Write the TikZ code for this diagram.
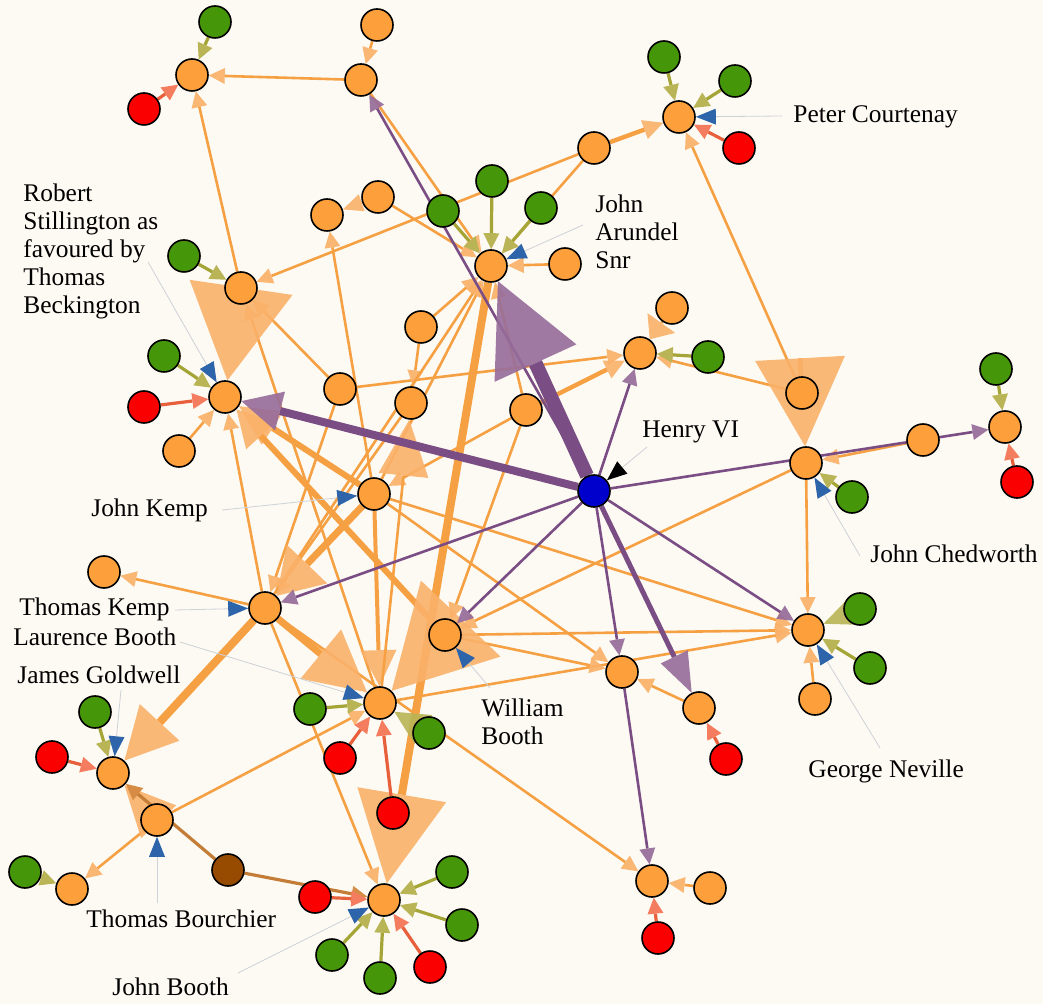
\documentclass[tikz,border=0pt]{standalone}
\usepackage{fontspec}
\setmainfont{Liberation Serif}
\usetikzlibrary{arrows.meta}
\pgfdeclarelayer{back}
\pgfdeclarelayer{edges}
\pgfsetlayers{back,edges,main}
\definecolor{bgcr}{RGB}{253,250,243}
\definecolor{ndor}{RGB}{253,160,60}
\definecolor{ndgr}{RGB}{70,150,10}
\definecolor{ndrd}{RGB}{250,0,0}
\definecolor{ndbl}{RGB}{0,0,205}
\definecolor{ndbr}{RGB}{150,75,0}
\definecolor{edgeor}{RGB}{246,160,68}
\definecolor{tipor}{RGB}{250,177,105}
\definecolor{edgepu}{RGB}{122,78,132}
\definecolor{tippu}{RGB}{150,108,155}
\definecolor{edgeol}{RGB}{165,165,55}
\definecolor{tipol}{RGB}{185,180,85}
\definecolor{edgerd}{RGB}{232,95,60}
\definecolor{tiprd}{RGB}{245,125,95}
\definecolor{edgebr}{RGB}{195,125,55}
\definecolor{tipbr}{RGB}{215,140,70}
\definecolor{labbl}{RGB}{45,100,170}
\definecolor{leadgr}{RGB}{205,210,215}
\newcommand{\lbfont}{\fontsize{12.7}{14}\selectfont}
\tikzset{
  pnode/.style={circle, draw=black, line width=0.8pt, minimum size=16pt, inner sep=0pt},
  nor/.style={pnode, fill=ndor},
  ngr/.style={pnode, fill=ndgr},
  nrd/.style={pnode, fill=ndrd},
  nbl/.style={pnode, fill=ndbl},
  nbr/.style={pnode, fill=ndbr},
  lbl/.style={font=\lbfont, inner sep=0pt, align=left},
  eor/.style={draw=edgeor, line width=1.3pt, fill opacity=.92, -{Triangle[length=8pt,width=8pt,color=tipor,line width=0pt]}},
  eorx/.style n args={3}{draw=edgeor, line width=#1, fill opacity=.9, -{Triangle[length=#2,width=#3,color=tipor,line width=0pt]}},
  epu/.style={draw=edgepu, line width=1.3pt, fill opacity=.92, -{Triangle[length=8pt,width=8pt,color=tippu,line width=0pt]}},
  epux/.style n args={3}{draw=edgepu, line width=#1, fill opacity=.9, -{Triangle[length=#2,width=#3,color=tippu,line width=0pt]}},
  eol/.style={draw=edgeol, line width=1.6pt, -{Triangle[length=8pt,width=8pt,color=tipol,line width=0pt]}},
  eolx/.style n args={2}{draw=edgeol, line width=1.6pt, fill opacity=.9, -{Triangle[length=#1,width=#2,color=tipol,line width=0pt]}},
  erd/.style={draw=edgerd, line width=1.6pt, -{Triangle[length=8pt,width=8pt,color=tiprd,line width=0pt]}},
  ebr/.style={draw=edgebr, line width=1.6pt, -{Triangle[length=8pt,width=8pt,color=tipbr,line width=0pt]}},
  lead/.style={draw=leadgr, line width=0.4pt, -{Triangle[length=10pt,width=8pt,color=labbl,line width=0pt]}},
  leadk/.style={draw=leadgr, line width=0.4pt, -{Triangle[length=10pt,width=8pt,color=black,line width=0pt]}},
}
\begin{document}
\begin{tikzpicture}[x=0.5pt,y=-0.5pt]
\begin{pgfonlayer}{back}
\fill[bgcr] (0,0) rectangle (1043,1004);
\end{pgfonlayer}
\useasboundingbox (0,0) rectangle (1043,1004);

% clergy and lords
\node[nor] (A) at (192,75) {};
\node[nor] (B) at (361,80) {};
\node[nor] (Bt) at (377,25) {};
\node[nor] (C) at (241,288) {};
\node[nor] (RS) at (225,397) {};
\node[nor] (RSo) at (179,451) {};
\node[nor] (PC) at (679,117) {};
\node[nor] (D) at (594,148) {};
\node[nor] (E) at (378,197) {};
\node[nor] (F) at (327,215) {};
\node[nor] (JA) at (491,266) {};
\node[nor] (JAo) at (565,264) {};
\node[nor] (G) at (340,389) {};
\node[nor] (H) at (411,403) {};
\node[nor] (I) at (421,327) {};
\node[nor] (K) at (526,410) {};
\node[nor] (L) at (640,353) {};
\node[nor] (Lt) at (672,308) {};
\node[nor] (T) at (802,393) {};
\node[nor] (JC) at (806,463) {};
\node[nor] (R) at (923,440) {};
\node[nor] (Q) at (1005,427) {};
\node[nor] (JK) at (374,494) {};
\node[nor] (TK) at (265,608) {};
\node[nor] (TKo) at (104,572) {};
\node[nor] (WB) at (445,635) {};
\node[nor] (LB) at (380,703) {};
\node[nor] (N) at (622,672) {};
\node[nor] (Nb) at (699,708) {};
\node[nor] (GN) at (808,630) {};
\node[nor] (GNo) at (815,699) {};
\node[nor] (Ob) at (652,881) {};
\node[nor] (Obb) at (710,888) {};
\node[nor] (JG) at (113,773) {};
\node[nor] (TB) at (157,820) {};
\node[nor] (TBo) at (72,889) {};
\node[nor] (JB) at (384,900) {};
\node[nbl] (HVI) at (594,491) {};
\node[nbr] (bTB) at (228,870) {};

% green
\node[ngr] (gA) at (215,22) {};
\node[ngr] (gC) at (184,256) {};
\node[ngr] (gRS) at (164,356) {};
\node[ngr] (gPCa) at (664,57) {};
\node[ngr] (gPCb) at (735,81) {};
\node[ngr] (gJAa) at (443,211) {};
\node[ngr] (gJAb) at (492,181) {};
\node[ngr] (gJAc) at (541,208) {};
\node[ngr] (gL) at (708,357) {};
\node[ngr] (gQ) at (996,369) {};
\node[ngr] (gJC) at (852,497) {};
\node[ngr] (gGNa) at (860,609) {};
\node[ngr] (gGNb) at (870,668) {};
\node[ngr] (gLBa) at (310,709) {};
\node[ngr] (gLBb) at (429,733) {};
\node[ngr] (gJG) at (95,712) {};
\node[ngr] (gTBo) at (25,872) {};
\node[ngr] (gJBa) at (452,872) {};
\node[ngr] (gJBb) at (462,925) {};
\node[ngr] (gJBc) at (380,978) {};
\node[ngr] (gJBd) at (332,955) {};

% red
\node[nrd] (rA) at (144,109) {};
\node[nrd] (rRS) at (144,407) {};
\node[nrd] (rPC) at (739,148) {};
\node[nrd] (rQ) at (1017,482) {};
\node[nrd] (rNb) at (726,759) {};
\node[nrd] (rOb) at (658,938) {};
\node[nrd] (rJG) at (52,757) {};
\node[nrd] (rLBa) at (340,758) {};
\node[nrd] (rLBb) at (393,813) {};
\node[nrd] (rJBa) at (315,897) {};
\node[nrd] (rJBb) at (430,967) {};

% names
\node[lbl, anchor=north west] (lRS) at (23,183) {Robert\\Stillington as\\favoured by\\Thomas\\Beckington};
\node[lbl, anchor=north west] (lJA) at (595,194) {John\\Arundel\\Snr};
\node[lbl, anchor=base west] (lPC) at (793,123) {Peter Courtenay};
\node[lbl, anchor=base west] (lHVI) at (642,438) {Henry VI};
\node[lbl, anchor=base west] (lJC) at (870,563) {John Chedworth};
\node[lbl, anchor=base west] (lGN) at (808,777) {George Neville};
\node[lbl, anchor=north west] (lWB) at (481,698) {William\\Booth};
\node[lbl, anchor=base west] (lJK) at (91,517) {John Kemp};
\node[lbl, anchor=base west] (lTK) at (19,616) {Thomas Kemp};
\node[lbl, anchor=base west] (lLB) at (13,646) {Laurence Booth};
\node[lbl, anchor=base west] (lJG) at (17,683) {James Goldwell};
\node[lbl, anchor=base west] (lTB) at (86,927) {Thomas Bourchier};
\node[lbl, anchor=base west] (lJB) at (112,995) {John Booth};

\coordinate (cRS) at (148,262);
\coordinate (cJA) at (583,225);
\coordinate (cPC) at (782,116);
\coordinate (cHVI) at (647,447);
\coordinate (cJC) at (860,556);
\coordinate (cGN) at (880,748);
\coordinate (cWB) at (490,688);
\coordinate (cJK) at (222,510);
\coordinate (cTK) at (175,610);
\coordinate (cLB) at (180,642);
\coordinate (cJG) at (121,690);
\coordinate (cTB) at (157,903);
\coordinate (cJB) at (238,973);

\begin{pgfonlayer}{edges}
% orange ties
\draw[eor] (Bt) -- (B);
\draw[eor] (B) -- (A);
\draw[eor] (C) -- (A);
\draw[eor] (D) -- (C);
\draw[eor] (D) -- (JA);
\draw[eor] (E) -- (JA);
\draw[eor] (B) -- (JA);
\draw[eor] (JAo) -- (JA);
\draw[eor] (JK) -- (F);
\draw[eor] (LB) -- (C);
\draw[eor] (G) -- (C);
\draw[eor] (G) -- (L);
\draw[eor] (G) -- (TK);
\draw[eor] (I) -- (H);
\draw[eor] (H) -- (TK);
\draw[eor] (I) -- (JA);
\draw[eor] (K) -- (JA);
\draw[eor] (K) -- (WB);
\draw[eor] (K) -- (JK);
\draw[eor] (T) -- (L);
\draw[eor] (T) -- (PC);
\draw[eor] (R) -- (JC);
\draw[eor] (JC) -- (GN);
\draw[eor] (JC) -- (WB);
\draw[eor] (GNo) -- (GN);
\draw[eor] (JK) -- (GN);
\draw[eor] (WB) -- (GN);
\draw[eor] (LB) -- (GN);
\draw[eor] (JK) -- (N);
\draw[eor] (WB) -- (N);
\draw[eor] (Nb) -- (N);
\draw[eor] (Obb) -- (Ob);
\draw[eor] (TK) -- (Ob);
\draw[eor] (TK) -- (TKo);
\draw[eor] (TB) -- (LB);
\draw[eor] (TB) -- (TBo);
\draw[eor] (RSo) -- (RS);
\draw[eor] (TK) -- (RS);
\draw[eor] (TK) -- (JA);
\draw[eor] (JK) -- (JA);
\draw[eor] (TK) -- (JB);
\draw[eorx={1.3pt}{10pt}{9pt}] (E) -- (F);
\draw[eorx={1.3pt}{10pt}{17pt}] (Lt) -- (L);
\draw[eorx={2.2pt}{10pt}{10pt}] (D) -- (PC);
\draw[eorx={2.2pt}{10pt}{10pt}] (K) -- (L);
% heavy orange ties
\draw[eorx={2pt}{47pt}{52pt}] (C) -- (RS);
\draw[eorx={2.5pt}{44pt}{45pt}] (T) -- (JC);
\draw[eorx={4pt}{45pt}{45pt}] (JA) -- (JB);
\draw[eorx={3pt}{20pt}{20pt}] (JK) -- (RS);
\draw[eorx={3pt}{18pt}{20pt}] (WB) -- (RS);
\draw[eorx={3.5pt}{22pt}{28pt}] (JK) -- (TK);
\draw[eorx={4pt}{26pt}{27pt}] (TK) -- (JG);
\draw[eorx={3.5pt}{30pt}{32pt}] (TK) -- (LB);
\draw[eorx={2pt}{18pt}{18pt}] (JK) -- (LB);
\draw[eorx={1.3pt}{50pt}{55pt}] (WB) -- (LB);
\draw[eorx={1.3pt}{28pt}{25pt}] (LB) -- (H);
\draw[eorx={1.3pt}{25pt}{24pt}] (TB) -- (JG);
% brown
\draw[ebr] (bTB) -- (JG);
\draw[ebr] (bTB) -- (JB);
% Henry VI
\draw[epu] (HVI) -- (B);
\draw[epu] (HVI) -- (L);
\draw[epu] (HVI) -- (Q);
\draw[epu] (HVI) -- (TK);
\draw[epu] (HVI) -- (WB);
\draw[epu] (HVI) -- (N);
\draw[epu] (HVI) -- (GN);
\draw[epu] (N) -- (Ob);
\draw[epux={7pt}{45pt}{45pt}] (HVI) -- (JA);
\draw[epux={4pt}{20pt}{20pt}] (HVI) -- (RS);
\draw[epux={2.5pt}{20pt}{15pt}] (HVI) -- (Nb);
% green
\draw[eol] (gA) -- (A);
\draw[eol] (gC) -- (C);
\draw[eol] (gRS) -- (RS);
\draw[eol] (gPCa) -- (PC);
\draw[eol] (gPCb) -- (PC);
\draw[eol] (gJAa) -- (JA);
\draw[eol] (gJAb) -- (JA);
\draw[eol] (gJAc) -- (JA);
\draw[eol] (gL) -- (L);
\draw[eol] (gQ) -- (Q);
\draw[eol] (gJC) -- (JC);
\draw[eolx={17pt}{15pt}] (gGNa) -- (GN);
\draw[eol] (gGNb) -- (GN);
\draw[eol] (gLBa) -- (LB);
\draw[eolx={17pt}{17pt}] (gLBb) -- (LB);
\draw[eol] (gJG) -- (JG);
\draw[eol] (gTBo) -- (TBo);
\draw[eol] (gJBa) -- (JB);
\draw[eol] (gJBb) -- (JB);
\draw[eol] (gJBc) -- (JB);
\draw[eol] (gJBd) -- (JB);
% red
\draw[erd] (rA) -- (A);
\draw[erd] (rRS) -- (RS);
\draw[erd] (rPC) -- (PC);
\draw[erd] (rQ) -- (Q);
\draw[erd] (rNb) -- (Nb);
\draw[erd] (rOb) -- (Ob);
\draw[erd] (rJG) -- (JG);
\draw[erd] (rLBa) -- (LB);
\draw[erd] (rLBb) -- (LB);
\draw[erd] (rJBa) -- (JB);
\draw[erd] (rJBb) -- (JB);
% name pointers
\draw[lead] (cRS) -- (RS);
\draw[lead] (cJA) -- (JA);
\draw[lead] (cPC) -- (PC);
\draw[leadk] (cHVI) -- (HVI);
\draw[lead] (cJC) -- (JC);
\draw[lead] (cGN) -- (GN);
\draw[lead] (cWB) -- (WB);
\draw[lead] (cJK) -- (JK);
\draw[lead] (cTK) -- (TK);
\draw[lead] (cLB) -- (LB);
\draw[lead] (cJG) -- (JG);
\draw[lead] (cTB) -- (TB);
\draw[lead] (cJB) -- (JB);
\end{pgfonlayer}
\end{tikzpicture}
\end{document}
